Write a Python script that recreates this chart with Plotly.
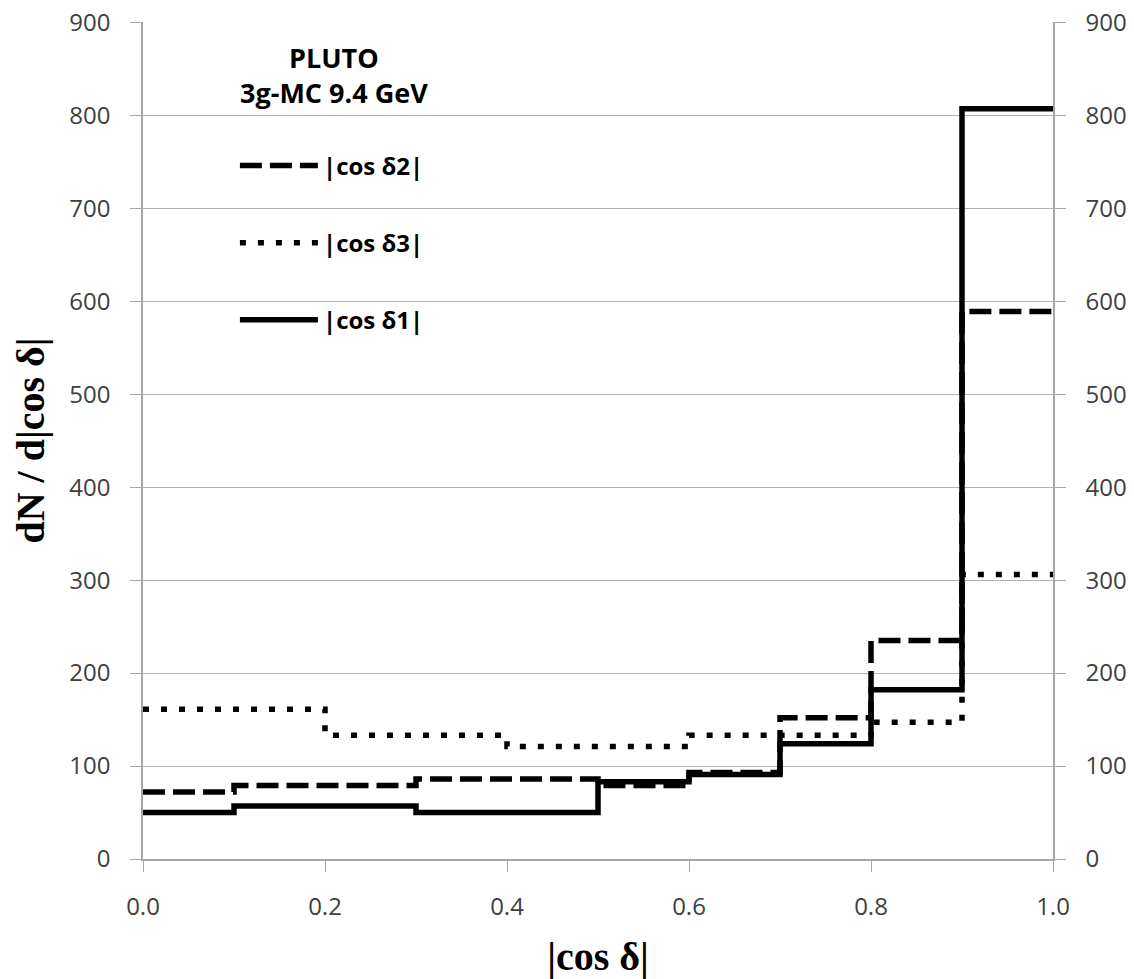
import plotly.graph_objects as go

# Bin edges and per-bin values
edges_fine = [0.0, 0.1, 0.2, 0.3, 0.4, 0.5, 0.6, 0.7, 0.8, 0.9, 1.0]
cos_d1 = [50, 57, 57, 50, 50, 83, 91, 124, 182, 807]
cos_d2 = [72, 79, 79, 86, 86, 79, 93, 152, 235, 589]
edges_d3 = [0.0, 0.2, 0.4, 0.6, 0.8, 0.9, 1.0]
cos_d3 = [161, 133, 121, 133, 147, 306]

y_ticks = [0, 100, 200, 300, 400, 500, 600, 700, 800, 900]
x_ticks = [0.0, 0.2, 0.4, 0.6, 0.8, 1.0]
x_ticklabels = ["0.0", "0.2", "0.4", "0.6", "0.8", "1.0"]

def step(vals):
    return list(vals) + [vals[-1]]

fig = go.Figure()
fig.add_trace(go.Scatter(x=edges_fine, y=step(cos_d2), mode="lines", line_shape="hv",
                         name="<b>|cos δ2|</b>", legendgroup="a",
                         line=dict(color="black", width=5.5, dash="22px,8px")))
fig.add_trace(go.Scatter(x=edges_d3, y=step(cos_d3), mode="lines", line_shape="hv",
                         name="<b>|cos δ3|</b>", legendgroup="b",
                         line=dict(color="black", width=5.5, dash="6px,12px")))
fig.add_trace(go.Scatter(x=edges_fine, y=step(cos_d1), mode="lines", line_shape="hv",
                         name="<b>|cos δ1|</b>", legendgroup="c", yaxis="y2",
                         line=dict(color="black", width=5.5)))

sans = "Open Sans, Liberation Sans, sans-serif"
tickfont = dict(family=sans, size=24, color="#404040")
axcol = "#a6a6a6"
yrange = [0, 900.4]

fig.update_layout(
    width=1134, height=979,
    margin=dict(l=143, r=81, t=22, b=120, autoexpand=False),
    paper_bgcolor="white", plot_bgcolor="white",
    showlegend=True,
    legend=dict(x=0.101, y=0.855, xanchor="left", yanchor="top",
                bgcolor="rgba(0,0,0,0)", tracegroupgap=43, itemwidth=78,
                font=dict(family=sans, size=24, color="black")),
    xaxis=dict(range=[0, 1], tickvals=x_ticks, ticktext=x_ticklabels, automargin=False,
               showgrid=False, zeroline=False, showline=True, linecolor=axcol, linewidth=1.5,
               ticks="outside", ticklen=11, tickcolor=axcol, tickfont=tickfont,
               ticklabelstandoff=14, ticklabeloverflow="allow",
               title=dict(text="<b>|cos δ|</b>", standoff=22,
                          font=dict(family="Liberation Serif, serif", size=40, color="black"))),
    yaxis=dict(range=yrange, tickvals=y_ticks, showgrid=True, gridcolor="#b3b3b3", gridwidth=1,
               automargin=False,
               zeroline=False, showline=True, linecolor=axcol, linewidth=1.5,
               ticks="outside", ticklen=11, tickcolor=axcol, tickfont=tickfont,
               ticklabelstandoff=15, ticklabeloverflow="allow",
               title=dict(text="<b>dN / d|cos δ|</b>", standoff=12,
                          font=dict(family="Liberation Serif, serif", size=40, color="black"))),
    yaxis2=dict(range=yrange, matches="y", tickvals=y_ticks, overlaying="y", side="right", anchor="x",
                automargin=False,
                showgrid=False, zeroline=False, showline=True, linecolor=axcol, linewidth=1.5,
                ticks="outside", ticklen=11, tickcolor=axcol, tickfont=tickfont,
                ticklabelstandoff=15, ticklabeloverflow="allow"),
)

fig.add_annotation(text="<b>PLUTO</b><br><b>3g-MC 9.4 GeV</b>", xref="paper", yref="paper",
                   x=0.21, y=0.937, xanchor="center", yanchor="middle", align="center",
                   showarrow=False, font=dict(family=sans, size=27, color="black"))

fig.write_html("out.html", config={"displayModeBar": False},
               post_script="document.body.style.margin='0';document.body.style.overflow='hidden';")
